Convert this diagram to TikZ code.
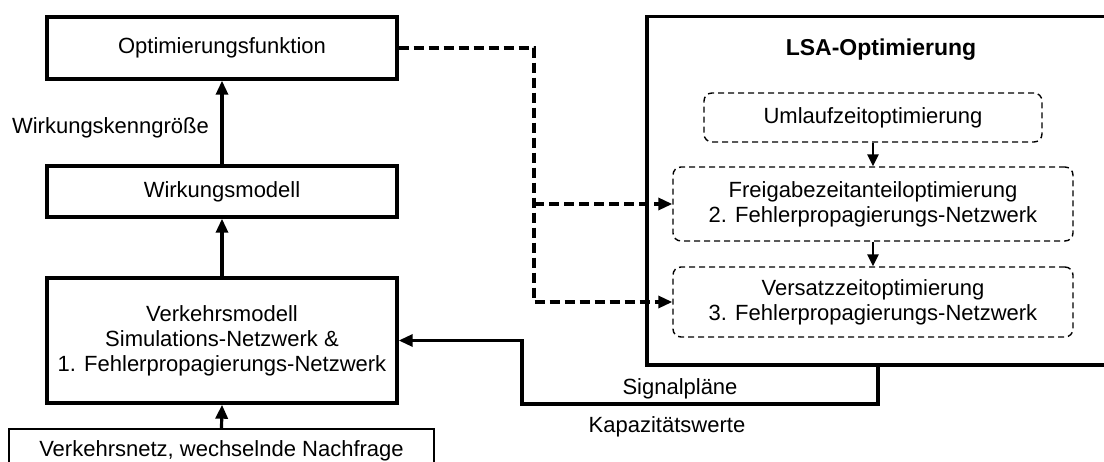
\documentclass[tikz,border=0pt]{standalone}
\usepackage{fontspec}
\setmainfont{Liberation Sans}
\usetikzlibrary{arrows.meta}
\begin{document}
\begin{tikzpicture}[x=1pt,y=-1pt,
  every node/.style={font=\fontsize{22}{25}\selectfont, align=center, inner sep=0pt},
  mainbox/.style={draw, line width=3.4pt, minimum width=350pt},
  optbox/.style={draw, line width=1.4pt, dash pattern=on 6pt off 4pt, rounded corners=8pt, minimum width=400pt},
  conn/.style={line width=3.2pt, -{Triangle[length=14pt,width=12pt]}},
  dconn/.style={line width=3.2pt, dash pattern=on 10pt off 5pt, -{Triangle[length=14pt,width=12pt]}},
  sconn/.style={line width=2.4pt, -{Triangle[length=12pt,width=11pt]}},
]
\clip (0,0) rectangle (1104,462);
% left column
\node[mainbox, minimum height=62pt] (opt) at (222,48) {Optimierungsfunktion};
\node[mainbox, minimum height=51pt] (wirk) at (222,191.5) {Wirkungsmodell};
\node[mainbox, minimum height=125pt] (verk) at (222,340.5) {Verkehrsmodell\\Simulations-Netzwerk \&\\1. Fehlerpropagierungs-Netzwerk};
\node[draw, line width=1.4pt, minimum width=425pt, minimum height=44pt] (netz) at (221.5,451) {Verkehrsnetz, wechselnde Nachfrage};
\node (wk) at (110.5,128) {Wirkungskenngröße};
% LSA block
\node[draw, line width=3.4pt, minimum width=480pt, minimum height=348.5pt] (lsa) at (887,190.75) {};
\node[font=\fontsize{23}{26}\selectfont\bfseries] (title) at (881,50) {LSA-Optimierung};
\node[optbox, minimum width=338pt, minimum height=49pt] (uml) at (873,117.5) {Umlaufzeitoptimierung};
\node[optbox, minimum height=74pt] (frei) at (873,204) {Freigabezeitanteiloptimierung\\2. Fehlerpropagierungs-Netzwerk};
\node[optbox, minimum height=70pt] (vers) at (873,302) {Versatzzeitoptimierung\\3. Fehlerpropagierungs-Netzwerk};
% connectors
\draw[conn] (wirk.north) -- (opt.south);
\draw[conn] (verk.north) -- (wirk.south);
\draw[conn] (netz.north) -- (verk.south);
\draw[sconn] (uml.south) -- (frei.north);
\draw[sconn] (frei.south) -- (vers.north);
\coordinate (j) at (534,48);
\draw[dconn] (opt.east) -- (j) |- (vers.west);
\draw[dconn] (j |- frei.west) -- (frei.west);
\coordinate (s1) at (878,404);
\coordinate (s2) at (522,404);
\draw[conn] (s1 |- lsa.south) -- (s1) -- (s2) |- (verk.east);
\node (sig) at (680,389) {Signalpläne};
\node (kap) at (667,427) {Kapazitätswerte};
\end{tikzpicture}
\end{document}
